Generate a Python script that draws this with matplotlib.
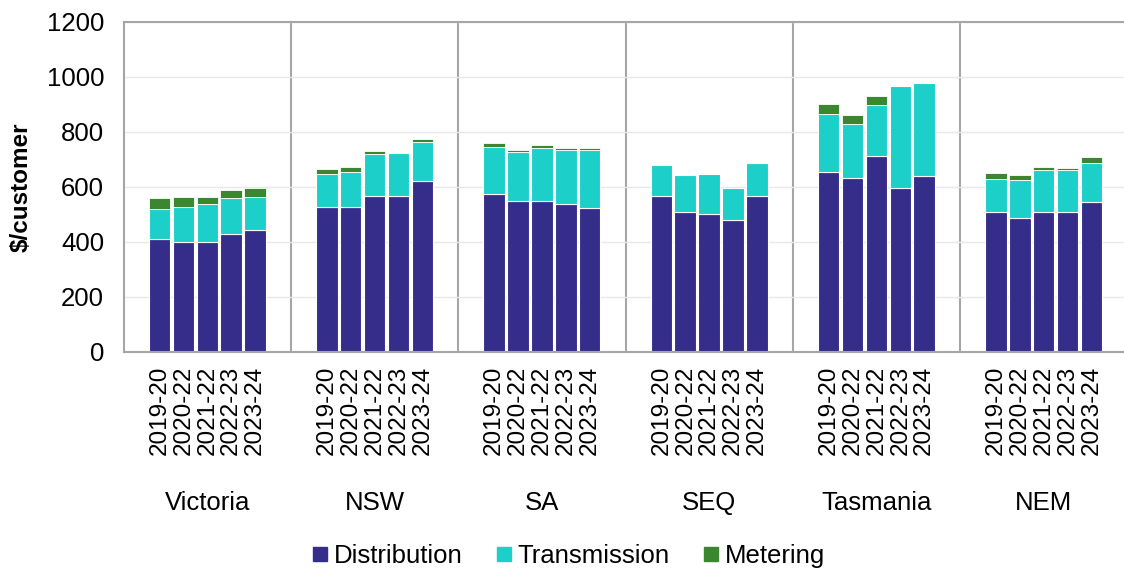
import matplotlib.pyplot as plt
from matplotlib.lines import Line2D
from matplotlib import transforms

plt.rcParams['font.family'] = ['Liberation Sans', 'DejaVu Sans']

regions = ["Victoria", "NSW", "SA", "SEQ", "Tasmania", "NEM"]
years = ["2019-20", "2020-22", "2021-22", "2022-23", "2023-24"]

distribution = [
    [411, 399, 399, 428, 441],
    [528, 526, 567, 567, 620],
    [573, 549, 549, 537, 521],
    [565, 507, 501, 478, 565],
    [653, 631, 713, 595, 640],
    [507, 488, 507, 507, 544],
]
transmission = [
    [109, 127, 139, 132, 121],
    [117, 127, 151, 156, 141],
    [171, 177, 192, 196, 212],
    [115, 134, 146, 119, 121],
    [212, 197, 186, 370, 339],
    [123, 135, 153, 153, 144],
]
metering = [
    [39, 36, 26, 27, 34],
    [19, 20, 13, 0, 13],
    [14, 9, 10, 8, 7],
    [0, 0, 0, 0, 0],
    [35, 32, 32, 0, 0],
    [20, 19, 13, 10, 20],
]

c_dist = "#352d8a"
c_trans = "#1ccfc9"
c_met = "#3a872f"
grey = "#a6a6a6"

fig = plt.figure(figsize=(11.24, 5.72), dpi=100)
ax = fig.add_axes([0.110, 0.385, 0.893, 0.577])

group_w = 7
xs, labels = [], []
for g, region in enumerate(regions):
    for i, yr in enumerate(years):
        x = g * group_w + 1.5 + i
        d = distribution[g][i]
        t = transmission[g][i]
        m = metering[g][i]
        ax.bar(x, d, width=0.9, color=c_dist, edgecolor="white", linewidth=0.8)
        ax.bar(x, t, bottom=d, width=0.9, color=c_trans, edgecolor="white", linewidth=0.8)
        if m:
            ax.bar(x, m, bottom=d + t, width=0.9, color=c_met, edgecolor="white", linewidth=0.6)
        xs.append(x)
        labels.append(yr)

# region separators
for g in range(1, len(regions)):
    ax.axvline(g * group_w, color=grey, linewidth=1.5, zorder=0)

ax.set_xlim(0, group_w * len(regions))
ax.set_ylim(0, 1200)
ax.set_yticks(range(0, 1201, 200))
ax.yaxis.grid(True, color="#e8e8e8", linewidth=1)
ax.set_axisbelow(True)
for side in ["left", "top", "bottom", "right"]:
    ax.spines[side].set_color(grey)
    ax.spines[side].set_linewidth(1.5)
ax.spines["right"].set_visible(False)

ax.set_xticks(xs)
ax.set_xticklabels(labels, rotation=90, fontsize=17.5)
ax.tick_params(axis="x", length=0, pad=10)
ax.tick_params(axis="y", length=0, pad=14, labelsize=18.5)
ax.set_ylabel("$/customer", fontsize=17.5, fontweight="bold", labelpad=10)

trans = transforms.blended_transform_factory(ax.transData, ax.transAxes)
for g, region in enumerate(regions):
    ax.text(g * group_w + 3.5, -0.457, region, transform=trans,
            ha="center", va="center", fontsize=18.5)

handles = [
    Line2D([], [], marker="s", linestyle="", markersize=10, color=c_dist),
    Line2D([], [], marker="s", linestyle="", markersize=10, color=c_trans),
    Line2D([], [], marker="s", linestyle="", markersize=10, color=c_met),
]
fig.legend(handles, ["Distribution", "Transmission", "Metering"], loc="center",
           bbox_to_anchor=(0.506, 0.028), ncol=3, frameon=False, fontsize=18.5,
           handlelength=0.6, handletextpad=0.25, columnspacing=1.3)

fig.savefig("out.png", dpi=100)
